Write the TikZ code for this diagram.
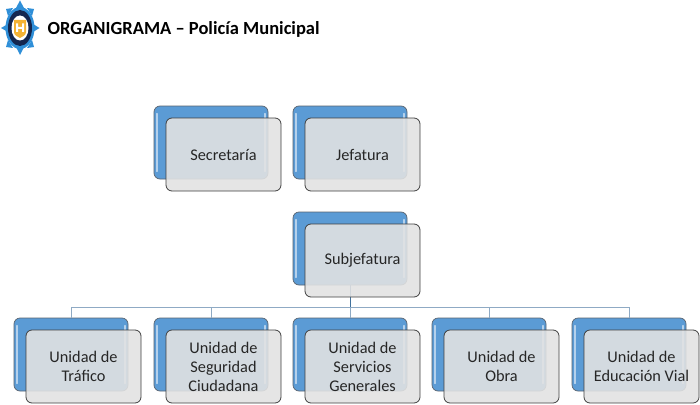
\documentclass[tikz,border=0pt]{standalone}
\usepackage{fontspec}
\setmainfont{Carlito}
\definecolor{boxblue}{HTML}{5B9BD5}
\definecolor{boxedge}{HTML}{5A6470}
\definecolor{frontfill}{HTML}{E2E2E2}
\definecolor{linklight}{HTML}{8FAAC4}
\definecolor{linkdark}{HTML}{41719C}
\definecolor{logoblue}{HTML}{2F8FD8}
\definecolor{logonavy}{HTML}{14264F}
\definecolor{logogold}{HTML}{F5B335}
\tikzset{
  backbox/.style={draw=boxedge,line width=.7pt,fill=boxblue,rounded corners=6pt,minimum width=114pt,minimum height=73pt,inner sep=0pt},
  frontbox/.style={draw=black!75,line width=.8pt,fill=frontfill,fill opacity=.89,text opacity=1,rounded corners=6pt,minimum width=115pt,minimum height=73pt,inner sep=0pt,align=center,font=\fontsize{16.3}{19}\selectfont,text=black!85},
  gleam/.style={draw=white,draw opacity=.55,line width=1.6pt,line cap=round},
  linkline/.style={draw=linklight,line width=.8pt},
  trunkline/.style={draw=linkdark,line width=.8pt},
  titletext/.style={font=\fontsize{18.5}{22}\selectfont\bfseries,anchor=west,text=black,inner sep=0pt}
}
\newcommand{\backpair}[3]{%
  \node[backbox] (#1) at (#2,#3) {};
  \draw[gleam] ([xshift=3.5pt,yshift=-8pt]#1.north west) -- ([xshift=3.5pt,yshift=8pt]#1.south west);
  \draw[gleam] ([xshift=-3.5pt,yshift=-8pt]#1.north east) -- ([xshift=-3.5pt,yshift=8pt]#1.south east);
}
\begin{document}
\begin{tikzpicture}[x=1pt,y=-1pt]
\useasboundingbox (0,0) rectangle (700,404);
\fill[white] (0,0) rectangle (700,404);
% logo
\fill[logoblue] (20,0.5) -- (24,8) -- (16,8) -- cycle;
\fill[logoblue] (20,55) -- (24,47) -- (16,47) -- cycle;
\fill[logoblue] (1,28) -- (8,24) -- (8,32) -- cycle;
\fill[logoblue] (39.5,28) -- (33,24) -- (33,32) -- cycle;
\fill[logoblue] (6,9) -- (13,8) -- (8,16) -- cycle;
\fill[logoblue] (34,9) -- (27,8) -- (32,16) -- cycle;
\fill[logoblue] (6,47) -- (13,48) -- (8,40) -- cycle;
\fill[logoblue] (34,47) -- (27,48) -- (32,40) -- cycle;
\fill[logoblue] (20,28) ellipse (14.5 and 21);
\fill[logonavy] (20,28) ellipse (12 and 18);
\fill[white] (20,28) ellipse (8.5 and 12.5);
\fill[logogold] (14,20) -- (26,20) -- (26,32) .. controls (26,35.5) and (22.5,36.5) .. (20,38) .. controls (17.5,36.5) and (14,35.5) .. (14,32) -- cycle;
\fill[white] (16,23.5) rectangle (18,32) (22,23.5) rectangle (24,32) (16,27) rectangle (24,29);
% title
\node[titletext] (title) at (47.5,29) {ORGANIGRAMA – Policía Municipal};
% back boxes
\backpair{bsec}{211}{142.5}
\backpair{bjef}{350}{142.5}
\backpair{bsub}{350}{248.5}
\backpair{bu1}{71}{354.5}
\backpair{bu2}{211}{354.5}
\backpair{bu3}{350}{354.5}
\backpair{bu4}{489}{354.5}
\backpair{bu5}{629}{354.5}
% connectors
\coordinate (bus) at (350,307);
\foreach \n in {bu1,bu2,bu3,bu4,bu5}{\draw[linkline] (\n.north) |- (bus);}
\draw[trunkline] (bsub.south) -- (bus);
% front boxes
\node[frontbox] (sec) at (223.5,154.5) {Secretaría};
\node[frontbox] (jef) at (362.5,154.5) {Jefatura};
\node[frontbox] (sub) at (362.5,260.5) {Subjefatura};
\node[frontbox] (u1) at (83.5,366.5) {Unidad de\\Tráfico};
\node[frontbox] (u2) at (223.5,366.5) {Unidad de\\Seguridad\\Ciudadana};
\node[frontbox] (u3) at (362.5,366.5) {Unidad de\\Servicios\\Generales};
\node[frontbox] (u4) at (501.5,366.5) {Unidad de\\Obra};
\node[frontbox] (u5) at (641.5,366.5) {Unidad de\\Educación Vial};
\end{tikzpicture}
\end{document}
